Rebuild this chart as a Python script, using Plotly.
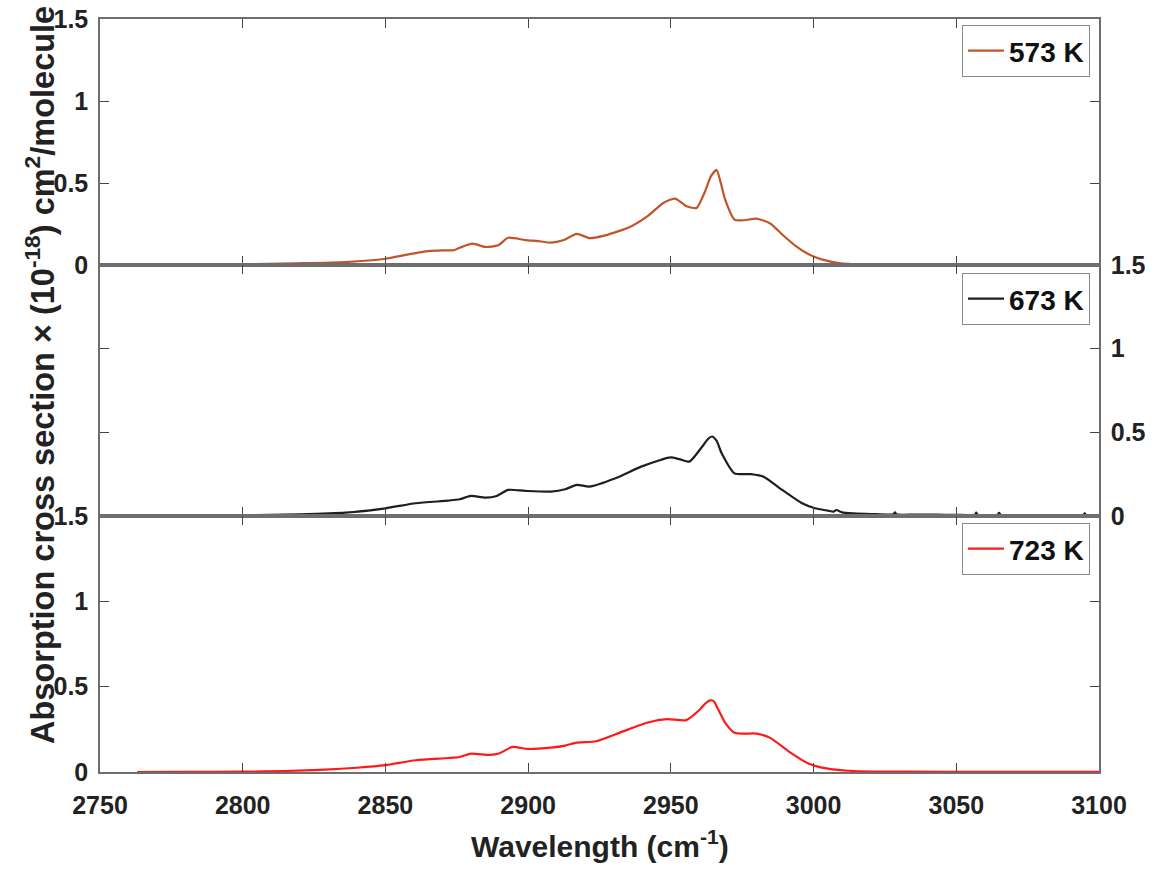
import plotly.graph_objects as go

# ---------------- data ----------------
wn_573 = [2763, 2780, 2800, 2818, 2836, 2850, 2858, 2865, 2870, 2874, 2876, 2880.5, 2885, 2889.5,
          2893, 2899, 2904, 2908, 2912.5, 2917, 2921.5, 2926, 2935, 2942, 2947.5, 2951.5, 2955.5,
          2959, 2962, 2964, 2966, 2967.5, 2969, 2972.3, 2975.7, 2980, 2984.8, 2989, 2993.8, 2998.3,
          3002.8, 3009.6, 3021, 3040, 3060, 3080, 3100]
val_573 = [0.0, 0.002, 0.004, 0.01, 0.018, 0.038, 0.065, 0.085, 0.089, 0.09, 0.105, 0.13, 0.11, 0.12,
           0.166, 0.152, 0.145, 0.136, 0.152, 0.19, 0.164, 0.176, 0.227, 0.30, 0.38, 0.405, 0.358,
           0.348, 0.45, 0.54, 0.58, 0.50, 0.40, 0.277, 0.273, 0.283, 0.253, 0.186, 0.115, 0.065,
           0.034, 0.01, 0.002, 0.001, 0.001, 0.001, 0.001]

wn_673 = [2763, 2780, 2800, 2820, 2836, 2850, 2860.6, 2872, 2876, 2880, 2885, 2889, 2893, 2899,
          2908, 2913, 2917, 2921.5, 2930.6, 2939.6, 2946.4, 2949.8, 2953, 2956.5, 2961, 2963, 2964.4,
          2966, 2967.8, 2972.3, 2978, 2982.5, 2989, 2996, 3000.5, 3005, 3007, 3008, 3010, 3014,
          3020, 3028, 3028.5, 3029, 3035, 3043, 3050, 3056.5, 3057, 3057.5, 3064.5, 3065, 3065.5,
          3075, 3085, 3094.5, 3095, 3095.5, 3098]
val_673 = [0.0, 0.002, 0.004, 0.01, 0.02, 0.046, 0.076, 0.092, 0.1, 0.12, 0.11, 0.12, 0.156, 0.15,
           0.146, 0.16, 0.186, 0.176, 0.226, 0.295, 0.335, 0.35, 0.34, 0.325, 0.415, 0.46, 0.475,
           0.45, 0.375, 0.255, 0.25, 0.235, 0.156, 0.076, 0.046, 0.032, 0.026, 0.036, 0.022, 0.016,
           0.012, 0.01, 0.022, 0.01, 0.008, 0.008, 0.007, 0.007, 0.02, 0.007, 0.007, 0.019, 0.007,
           0.006, 0.006, 0.006, 0.016, 0.006, 0.006]

wn_723 = [2763, 2780, 2800, 2815, 2829, 2840, 2850, 2860.6, 2872, 2876, 2880, 2886.6, 2890, 2894.5,
          2900, 2908, 2913, 2917, 2923.8, 2932.8, 2942, 2948.6, 2955.4, 2960, 2962, 2963.8, 2965,
          2966.7, 2969, 2972.3, 2976, 2980, 2984.8, 2991.5, 2998.3, 3005, 3014, 3032, 3060, 3100]
val_723 = [0.0, 0.001, 0.002, 0.006, 0.014, 0.025, 0.04, 0.069, 0.082, 0.088, 0.108, 0.10, 0.11,
           0.147, 0.135, 0.143, 0.155, 0.172, 0.18, 0.235, 0.29, 0.31, 0.304, 0.363, 0.40, 0.42,
           0.415, 0.363, 0.29, 0.23, 0.225, 0.225, 0.2, 0.118, 0.049, 0.02, 0.006, 0.002, 0.001, 0.001]

series = [
    ("573 K", wn_573, val_573, "#C2542A"),
    ("673 K", wn_673, val_673, "#1E1E1E"),
    ("723 K", wn_723, val_723, "#FF1A1A"),
]

x_ticks = [2750, 2800, 2850, 2900, 2950, 3000, 3050, 3100]
y_ticks = [0, 0.5, 1, 1.5]
y_ticklabels = ["0", "0.5", "1", "1.5"]

# ---------------- layout geometry ----------------
W, H = 1155, 871
L, R, T, B = 100, 1099, 19, 772
ph = B - T
panel_px = [(T, 265), (265, 516), (516, B)]

def dom(top, bot):
    return [(B - bot) / ph, (B - top) / ph]

FONT = "Liberation Sans, Arial, Helvetica, sans-serif"
AXC = "#6E6E6E"

fig = go.Figure()
for i, (name, x, y, c) in enumerate(series):
    fig.add_trace(go.Scatter(
        x=x, y=y, mode="lines", name=name,
        line=dict(color=c, width=2.2, shape="spline", smoothing=0.6),
        xaxis="x" if i == 0 else f"x{i+1}",
        yaxis="y" if i == 0 else f"y{i+1}",
        legend="legend" if i == 0 else f"legend{i+1}",
        showlegend=True,
    ))

layout = dict(
    width=W, height=H,
    margin=dict(l=L, r=W - R, t=T, b=H - B, pad=0, autoexpand=False),
    paper_bgcolor="white", plot_bgcolor="white",
    font=dict(family=FONT, color="#222222", size=25, weight="bold"),
)

for i in range(3):
    xs = "xaxis" if i == 0 else f"xaxis{i+1}"
    ys = "yaxis" if i == 0 else f"yaxis{i+1}"
    yid = "y" if i == 0 else f"y{i+1}"
    xid = "x" if i == 0 else f"x{i+1}"
    layout[xs] = dict(
        domain=[0, 1], anchor=yid, range=[2750, 3100],
        tickvals=x_ticks, ticks="inside", ticklen=9, tickcolor="#444444", tickwidth=1,
        showline=True, linecolor=AXC, linewidth=1.5, mirror="ticks",
        showgrid=False, zeroline=False, automargin=False,
        showticklabels=(i == 2), ticklabelstandoff=10,
        tickfont=dict(family=FONT, size=25, color="#222222", weight="bold"),
        matches=None if i == 0 else "x",
    )
    layout[ys] = dict(
        domain=dom(*panel_px[i]), anchor=xid, range=[0, 1.5],
        tickvals=y_ticks, ticktext=y_ticklabels,
        ticks="inside", ticklen=9, tickcolor="#444444", tickwidth=1,
        showline=True, linecolor=AXC, linewidth=1.5, mirror="ticks",
        showgrid=False, zeroline=False, automargin=False,
        side="right" if i == 1 else "left",
        ticklabelstandoff=5,
        tickfont=dict(family=FONT, size=25, color="#222222", weight="bold"),
    )

leg_tops = [25, 273, 523]
for i in range(3):
    key = "legend" if i == 0 else f"legend{i+1}"
    layout[key] = dict(
        x=(1090 - L) / (R - L), xanchor="right",
        y=(B - leg_tops[i]) / ph, yanchor="top",
        xref="paper", yref="paper",
        bgcolor="white", bordercolor="#8A8A8A", borderwidth=1,
        font=dict(family=FONT, size=28, color="#111111", weight="bold"),
        itemwidth=36, tracegroupgap=0,
    )

layout["annotations"] = [
    dict(text="Wavelength (cm<sup>-1</sup>)", xref="paper", yref="paper",
         x=(600 - L) / (R - L), y=0, yshift=-72, xanchor="center", yanchor="middle",
         showarrow=False, font=dict(family=FONT, size=30, color="#222222", weight="bold")),
    dict(text="Absorption cross section \u00d7 (10<sup>-18</sup>) cm<sup>2</sup>/molecule",
         xref="paper", yref="paper", x=0, xshift=-60, y=(B - 375) / ph,
         xanchor="center", yanchor="middle", textangle=-90,
         showarrow=False, font=dict(family=FONT, size=32.5, color="#222222", weight="bold")),
]

fig.update_layout(**layout)
fig.write_html("out.html")
